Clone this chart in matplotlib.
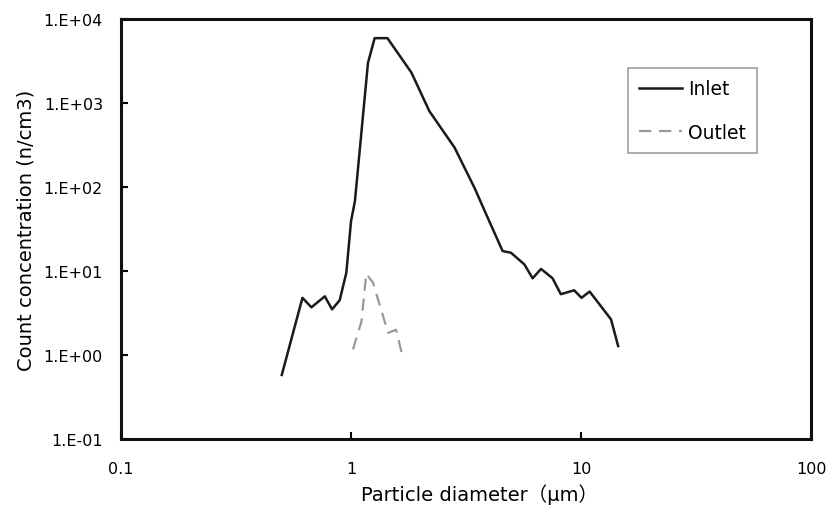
import matplotlib
matplotlib.use("Agg")
import matplotlib.pyplot as plt
from matplotlib.ticker import FixedLocator, FixedFormatter, NullLocator

plt.rcParams['font.family'] = ['DejaVu Sans', 'Noto Sans CJK JP']

# Inlet / outlet particle size distribution
inlet_d = [0.50, 0.615, 0.673, 0.769, 0.827, 0.893, 0.954, 1.0, 1.04, 1.185,
           1.267, 1.44, 1.83, 2.19, 2.82, 3.44, 3.93, 4.56, 4.96, 5.67,
           6.16, 6.7, 7.52, 8.17, 9.33, 10.05, 10.9, 13.5, 14.5]
inlet_c = [0.58, 4.8, 3.7, 5.0, 3.5, 4.5, 9.5, 39, 68, 3000,
           5900, 5900, 2300, 800, 294, 98, 43, 17.3, 16.5, 12,
           8.2, 10.6, 8.2, 5.3, 5.9, 4.8, 5.7, 2.66, 1.28]

outlet_d = [1.02, 1.11, 1.165, 1.245, 1.45, 1.57, 1.66]
outlet_c = [1.17, 2.5, 9.3, 7.3, 1.84, 2.0, 1.07]

yticks = [0.1, 1, 10, 100, 1000, 10000]
ytick_labels = ["1.E-01", "1.E+00", "1.E+01", "1.E+02", "1.E+03", "1.E+04"]
xticks = [0.1, 1, 10, 100]
xtick_labels = ["0.1", "1", "10", "100"]

fig = plt.figure(figsize=(8.31, 5.10), dpi=100)
ax = fig.add_axes([0.1456, 0.137, 0.8304, 0.824])

ax.plot(inlet_d, inlet_c, color="#1a1a1a", lw=1.8, label="Inlet")
ax.plot(outlet_d, outlet_c, color="#999999", lw=1.6, ls=(0, (5.5, 3.5)), label="Outlet")

ax.set_xscale("log")
ax.set_yscale("log")
ax.set_xlim(0.1, 100)
ax.set_ylim(0.1, 10000)

ax.xaxis.set_major_locator(FixedLocator(xticks))
ax.xaxis.set_major_formatter(FixedFormatter(xtick_labels))
ax.xaxis.set_minor_locator(NullLocator())
ax.yaxis.set_major_locator(FixedLocator(yticks))
ax.yaxis.set_major_formatter(FixedFormatter(ytick_labels))
ax.yaxis.set_minor_locator(NullLocator())

ax.tick_params(direction="in", length=5, width=1.5, labelsize=11.5)
ax.tick_params(axis="x", pad=16)
ax.tick_params(axis="y", pad=13)
for s in ax.spines.values():
    s.set_linewidth(2.2)
    s.set_color("#111111")

ax.set_xlabel("Particle diameter（μm）", fontsize=14, labelpad=5, x=0.52)
ax.set_ylabel("Count concentration (n/cm3)", fontsize=14, labelpad=6)

leg = ax.legend(loc="upper right", bbox_to_anchor=(0.9217, 0.883), fontsize=13.5,
                frameon=True, fancybox=False, handlelength=2.3, handletextpad=0.3,
                labelspacing=1.3, borderpad=0.6, borderaxespad=0)
leg.get_frame().set_edgecolor("#888888")
leg.get_frame().set_linewidth(1.2)

fig.savefig("out.png", dpi=100)
